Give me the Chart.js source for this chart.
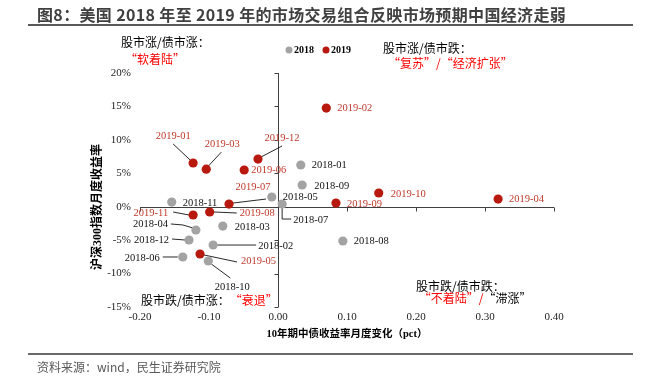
<!DOCTYPE html>
<html><head><meta charset="utf-8">
<script src="https://cdn.jsdelivr.net/npm/chart.js@4"></script>
<style>
html,body{margin:0;padding:0;background:#fff;}
#wrap{position:relative;width:658px;height:380px;overflow:hidden;background:#fff;}
#c{position:absolute;left:0;top:0;}
#title{position:absolute;left:37px;top:2px;height:24px;line-height:24px;font:bold 16px "Noto Sans CJK SC";letter-spacing:0.35px;color:#404040;white-space:nowrap;}
#tline{position:absolute;left:28px;top:24px;width:605px;height:2px;background:#595959;}
#fline{position:absolute;left:28px;top:353px;width:605px;height:2px;background:#6a6a6a;}
#foot{position:absolute;left:37px;top:358px;height:18px;line-height:18px;font:12px "Noto Sans CJK SC";color:#595959;white-space:nowrap;}
</style></head>
<body><div id="wrap">
<canvas id="c" width="658" height="380"></canvas>
<div id="title">图8：美国 2018 年至 2019 年的市场交易组合反映市场预期中国经济走弱</div>
<div id="tline"></div>
<div id="fline"></div>
<div id="foot">资料来源：wind，民生证券研究院</div>
</div>
<script>
// ---- data ----
const months = ['01','02','03','04','05','06','07','08','09','10','11','12'];
const seriesNames = ['2018','2019'];
// 10-year CGB yield monthly change (pct)
const yieldChg2018 = [0.033,-0.094,-0.080,-0.119,-0.009,-0.138,0.006,0.094,0.035,-0.101,-0.154,-0.129];
// CSI 300 monthly return (%)
const ret2018      = [6.24,-5.73,-2.89,-3.48,1.45,-7.52,0.40,-5.13,3.25,-8.12,0.70,-4.98];
const yieldChg2019 = [-0.123,0.070,-0.104,0.319,-0.113,-0.049,-0.071,-0.099,0.084,0.146,-0.123,-0.029];
const ret2019      = [6.54,14.76,5.61,1.15,-7.07,5.49,0.40,-0.79,0.55,2.05,-1.24,7.13];
const xTickLabels = ['-0.20','-0.10','0.00','0.10','0.20','0.30','0.40'];
const yTickLabels = ['-15%','-10%','-5%','0%','5%','10%','15%','20%'];
const xTitle = '10年期中债收益率月度变化（pct）';
const yTitle = '沪深300指数月度收益率';

// ---- label layout (pixel offsets from each point) ----
const layout2018 = [
  {dx:11,dy:0},                                   //01
  {dx:45,dy:1,leader:[[4,0],[43,0]]},             //02
  {dx:12,dy:1},                                   //03
  {dx:-28,dy:-6,align:'right',leader:[[-25,-6],[-13,-5],[-3,-2]]}, //04
  {dx:11,dy:0},                                   //05
  {dx:-23,dy:1,align:'right',leader:[[-20,0],[-5,0]]}, //06
  {dx:11,dy:16,leader:[[0,3],[0,15],[9,15]]},      //07
  {dx:11,dy:0},                                   //08
  {dx:12,dy:1},                                   //09
  {dx:24,dy:26,align:'center',leader:[[22,17],[3,3]]}, //10
  {dx:11,dy:1},                                   //11
  {dx:-20,dy:0,align:'right',leader:[[-17,-1],[-4,0]]} //12
];
const layout2019 = [
  {dx:-20,dy:-27,align:'center',leader:[[-20,-19],[-3,-3]]}, //01
  {dx:11,dy:0},                                   //02
  {dx:16,dy:-25,align:'center',leader:[[15,-17],[2,-3]]},   //03
  {dx:11,dy:0},                                   //04
  {dx:41,dy:7,leader:[[4,1],[37,8]]},              //05
  {dx:7,dy:0},                                    //06
  {dx:24,dy:-17,align:'center',leader:[[4,-1],[37,-5]]},    //07
  {dx:30,dy:1,leader:[[4,0],[27,1]]},              //08
  {dx:11,dy:1},                                   //09
  {dx:12,dy:1},                                   //10
  {dx:-25,dy:-2,align:'right',leader:[[-20,-3],[-4,0]]},    //11
  {dx:24,dy:-21,align:'center',leader:[[24,-13],[3,-2]]}    //12
];

// quadrant notes, positioned in data coordinates (x = left edge, y = middle)
const quadrantNotes = [
  {x:-0.2275,y:24.5,parts:[['股市涨/债市涨：','#000']]},
  {x:-0.2217,y:22.1,parts:[['“软着陆”','#ff0000']]},
  {x:0.1522,y:23.6,parts:[['股市涨/债市跌：','#000']]},
  {x:0.1594,y:21.5,parts:[['“复苏”/“经济扩张”','#ff0000']]},
  {x:-0.1986,y:-14.0,parts:[['股市跌/债市涨：','#000'],['“衰退”','#ff0000']]},
  {x:0.200,y:-11.86,parts:[['股市跌/债市跌：','#000']]},
  {x:0.204,y:-13.65,parts:[['“不着陆”/','#ff0000'],['“滞涨”','#000']]}
];

const colors = {g:'#a3a3a3', r:'#b8190f', rText:'#c0392b', axis:'#404040'};
const serif = '"Liberation Serif","Noto Sans CJK SC"';

function mk(xs, ys, year){
  return months.map((m,i)=>({x:xs[i], y:ys[i], name:year+'-'+m}));
}

const axesPlugin = {
  id:'crossAxes',
  beforeDatasetsDraw(chart){
    const {ctx, chartArea:a, scales:{x,y}} = chart;
    const x0 = Math.round(x.getPixelForValue(0))+0.5;
    const y0 = Math.round(y.getPixelForValue(0))+0.5;
    ctx.save();
    ctx.strokeStyle = colors.axis; ctx.lineWidth = 1;
    ctx.beginPath();
    ctx.moveTo(a.left, y0); ctx.lineTo(a.right, y0);
    ctx.moveTo(x0, a.top); ctx.lineTo(x0, a.bottom);
    x.ticks.forEach(t=>{ const p=Math.round(x.getPixelForValue(t.value))+0.5; ctx.moveTo(p,y0); ctx.lineTo(p,y0+4); });
    y.ticks.forEach(t=>{ const p=Math.round(y.getPixelForValue(t.value))+0.5; ctx.moveTo(x0-4,p); ctx.lineTo(x0,p); });
    ctx.stroke();
    // leaders
    ctx.strokeStyle = '#111'; ctx.lineWidth = 0.9;
    chart.data.datasets.forEach((ds,di)=>{
      const meta = chart.getDatasetMeta(di);
      meta.data.forEach((pt,i)=>{
        const lay = ds.labelLayout[i];
        if(!lay.leader) return;
        ctx.beginPath();
        lay.leader.forEach(([lx,ly],k)=>{ k ? ctx.lineTo(pt.x+lx,pt.y+ly) : ctx.moveTo(pt.x+lx,pt.y+ly); });
        ctx.stroke();
      });
    });
    ctx.restore();
  },
  afterDatasetsDraw(chart){
    const {ctx, chartArea:a, scales:{x,y}} = chart;
    ctx.save();
    ctx.textBaseline = 'middle';
    ctx.font = '10.5px ' + serif;
    chart.data.datasets.forEach((ds,di)=>{
      const meta = chart.getDatasetMeta(di);
      ctx.fillStyle = ds.labelColor;
      meta.data.forEach((pt,i)=>{
        const lay = ds.labelLayout[i];
        ctx.textAlign = lay.align || 'left';
        ctx.fillText(ds.data[i].name, pt.x+lay.dx, pt.y+lay.dy);
      });
    });
    // quadrant notes
    ctx.font = '12px "Noto Sans CJK SC"';
    ctx.textAlign = 'left';
    quadrantNotes.forEach(n=>{
      let px = x.getPixelForValue(n.x);
      const py = y.getPixelForValue(n.y);
      n.parts.forEach(([t,c])=>{ ctx.fillStyle=c; ctx.fillText(t,px,py); px += ctx.measureText(t).width; });
    });
    // legend
    const lx = [289, 326];
    ctx.font = 'bold 10px ' + serif;
    chart.data.datasets.forEach((ds,di)=>{
      ctx.fillStyle = ds.backgroundColor;
      ctx.beginPath(); ctx.arc(lx[di], 50, 3.5, 0, Math.PI*2); ctx.fill();
      ctx.fillStyle = '#000';
      ctx.fillText(ds.label, lx[di]+5, 50.5);
    });
    // y axis title (vertical)
    ctx.save();
    ctx.translate(98, (a.top+a.bottom)/2 + 17);
    ctx.rotate(-Math.PI/2);
    ctx.textAlign = 'center';
    ctx.font = 'bold 12px ' + serif;
    ctx.fillStyle = '#000';
    ctx.fillText(yTitle, 0, 0);
    ctx.restore();
    ctx.restore();
  }
};

new Chart(document.getElementById('c'), {
  type:'scatter',
  data:{datasets:[
    {label:seriesNames[0], data:mk(yieldChg2018, ret2018, seriesNames[0]), backgroundColor:colors.g, borderWidth:0, pointRadius:4.6, labelColor:'#111', labelLayout:layout2018},
    {label:seriesNames[1], data:mk(yieldChg2019, ret2019, seriesNames[1]), backgroundColor:colors.r, borderWidth:0, pointRadius:4.6, labelColor:colors.rText, labelLayout:layout2019}
  ]},
  options:{
    responsive:false, animation:false, devicePixelRatio:1,
    layout:{padding:{left:0, right:104, top:73, bottom:37}},
    plugins:{legend:{display:false}, tooltip:{enabled:false}},
    scales:{
      x:{type:'linear', min:-0.2, max:0.4,
         afterBuildTicks(s){ s.ticks = xTickLabels.map(l=>({value:parseFloat(l), label:l})); },
         ticks:{callback:(v,i)=>xTickLabels[i], font:{family:serif,size:11}, color:'#222', padding:4, maxRotation:0, autoSkip:false},
         grid:{display:false, drawTicks:false}, border:{display:false},
         title:{display:true, text:xTitle, font:{family:serif,size:10.5,weight:'bold'}, color:'#000', padding:{top:0,bottom:2}},
         afterFit(s){ s.height = 36; }},
      y:{type:'linear', min:-15, max:20,
         afterBuildTicks(s){ s.ticks = yTickLabels.map(l=>({value:parseFloat(l), label:l})); },
         ticks:{callback:(v,i)=>yTickLabels[i], font:{family:serif,size:11}, color:'#222', padding:9, autoSkip:false},
         grid:{display:false, drawTicks:false}, border:{display:false},
         afterFit(s){ s.width = 140; }}
    }
  },
  plugins:[axesPlugin]
});
</script>
</body></html>
